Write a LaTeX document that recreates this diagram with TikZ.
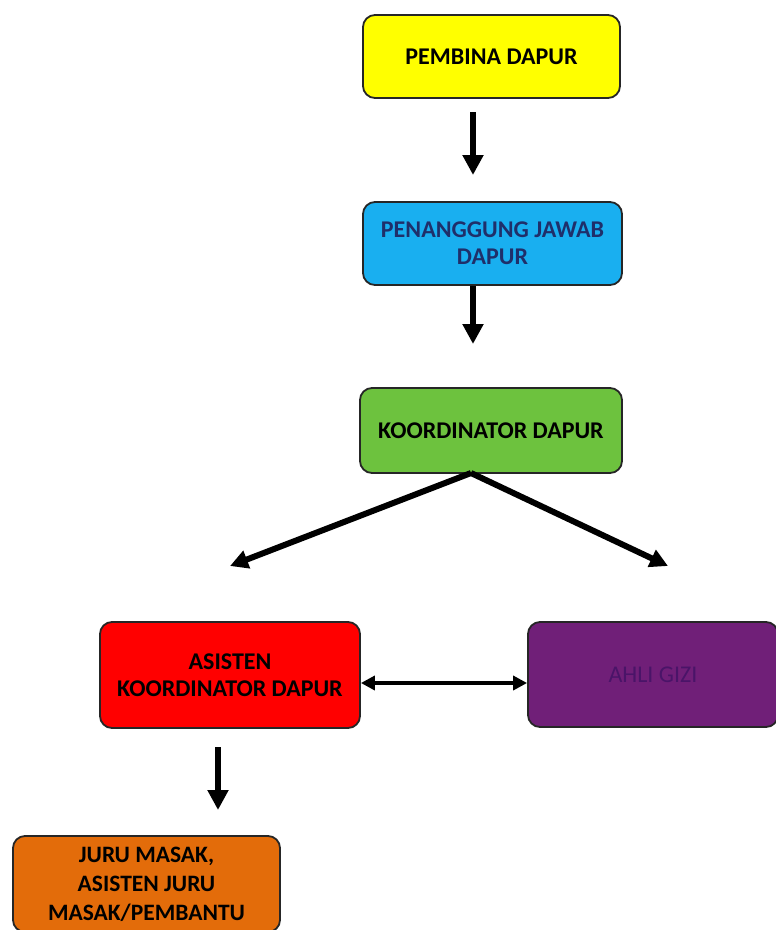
\documentclass[tikz,border=0pt]{standalone}
\usepackage{fontspec}
\setmainfont{Carlito}
\usetikzlibrary{arrows.meta}
\definecolor{cyel}{HTML}{FFFF00}
\definecolor{cblue}{HTML}{19AFF0}
\definecolor{cgreen}{HTML}{6DC23E}
\definecolor{cred}{HTML}{FF0000}
\definecolor{cpurp}{HTML}{701F78}
\definecolor{corange}{HTML}{E36C0A}
\definecolor{navy}{HTML}{1F2F6A}
\definecolor{ptext}{HTML}{4A1468}
\begin{document}
\begin{tikzpicture}[x=1pt,y=-1pt,
  box/.style={draw=black!85, line width=1.8pt, rounded corners=12pt, inner sep=0pt, align=center, font=\bfseries\fontsize{24}{27}\selectfont},
  bigarrow/.style={line width=6pt, -{Triangle[length=20pt,width=20pt]}},
  slant/.style={line width=6pt, -{Triangle[length=18pt,width=18pt]}},
  dbl/.style={line width=3.5pt, {Triangle[length=14pt,width=14pt]}-{Triangle[length=14pt,width=14pt]}}]
\useasboundingbox (0,0) rectangle (776,930);
\fill[white] (0,0) rectangle (776,930);
\node[box, fill=cyel, minimum width=257pt, minimum height=83pt] (pembina) at (491.5,56.5) {PEMBINA DAPUR};
\node[box, fill=cblue, text=navy, minimum width=259pt, minimum height=83pt] (pj) at (492.5,243.5) {PENANGGUNG JAWAB\\DAPUR};
\node[box, fill=cgreen, minimum width=262pt, minimum height=85pt] (koord) at (491,430.5) {KOORDINATOR DAPUR};
\node[box, fill=cred, minimum width=260pt, minimum height=106pt] (asisten) at (230,675) {ASISTEN\\KOORDINATOR DAPUR};
\node[box, fill=cpurp, text=ptext, minimum width=250pt, minimum height=105pt, font=\fontsize{24}{27}\selectfont] (ahli) at (653,674.5) {AHLI GIZI};
\node[box, fill=corange, minimum width=267pt, minimum height=96pt, font=\bfseries\fontsize{23.5}{29}\selectfont] (juru) at (146.5,884) {JURU MASAK,\\ASISTEN JURU\\MASAK/PEMBANTU};
\coordinate (a1s) at (473,112);
\coordinate (a1e) at (473,175);
\coordinate (a2s) at (473,286);
\coordinate (a2e) at (473,344);
\coordinate (kb) at (471,473);
\coordinate (lt) at (230,566);
\coordinate (rt) at (668,566);
\coordinate (a5s) at (218,747);
\coordinate (a5e) at (218,810);
\draw[bigarrow] (a1s) -- (a1e);
\draw[bigarrow] (a2s) -- (a2e);
\draw[slant] (kb) -- (lt);
\draw[slant] (kb) -- (rt);
\draw[dbl] (asisten.east |- 0,683) -- (ahli.west |- 0,683);
\draw[bigarrow] (a5s) -- (a5e);
\end{tikzpicture}
\end{document}
